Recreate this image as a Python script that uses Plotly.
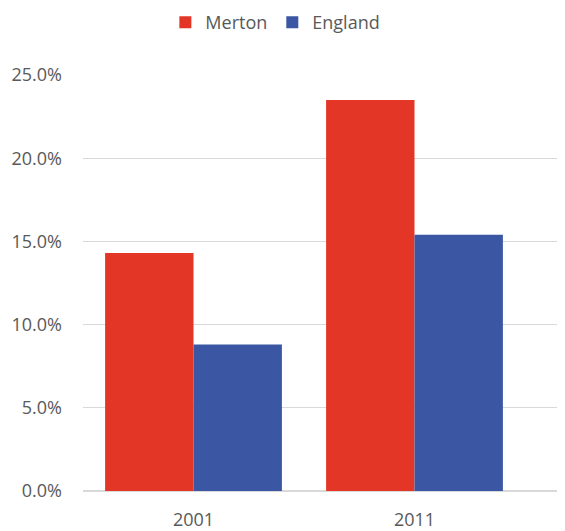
import plotly.graph_objects as go

# share of population, Merton vs England
years   = ["2001", "2011"]
merton  = [0.143, 0.235]
england = [0.088, 0.154]

RED  = "#E43626"
BLUE = "#3B56A2"
FONT = "Open Sans"

fig = go.Figure()
fig.add_trace(go.Bar(x=years, y=merton, name="Merton", marker=dict(color=RED, line_width=0)))
fig.add_trace(go.Bar(x=years, y=england, name="England", marker=dict(color=BLUE, line_width=0)))

# page body has an 8px margin, so the figure is drawn 8px smaller
fig.update_layout(
    width=557, height=523,
    margin=dict(l=75, r=0, t=67, b=40, autoexpand=False),
    barmode="group",
    bargap=0.2, bargroupgap=0,
    plot_bgcolor="white", paper_bgcolor="white",
    font=dict(family=FONT, size=18, color="#595959"),
    legend=dict(orientation="h", xref="container", yref="container",
                x=0.48, xanchor="center", y=0.972, yanchor="middle",
                font=dict(size=18), traceorder="normal"),
    showlegend=True,
)
fig.update_xaxes(range=[-0.5, 1.681], showgrid=False, showline=False, ticks="",
                 ticklabelstandoff=16, tickfont=dict(size=18))
fig.update_yaxes(range=[0, 0.25], dtick=0.05, tickformat=".1%", showgrid=True,
                 gridcolor="#D9D9D9", gridwidth=1, zeroline=True, zerolinecolor="#D9D9D9",
                 zerolinewidth=1.5, ticks="", ticklabelstandoff=20, tickfont=dict(size=18))

fig.write_html("out.html")
